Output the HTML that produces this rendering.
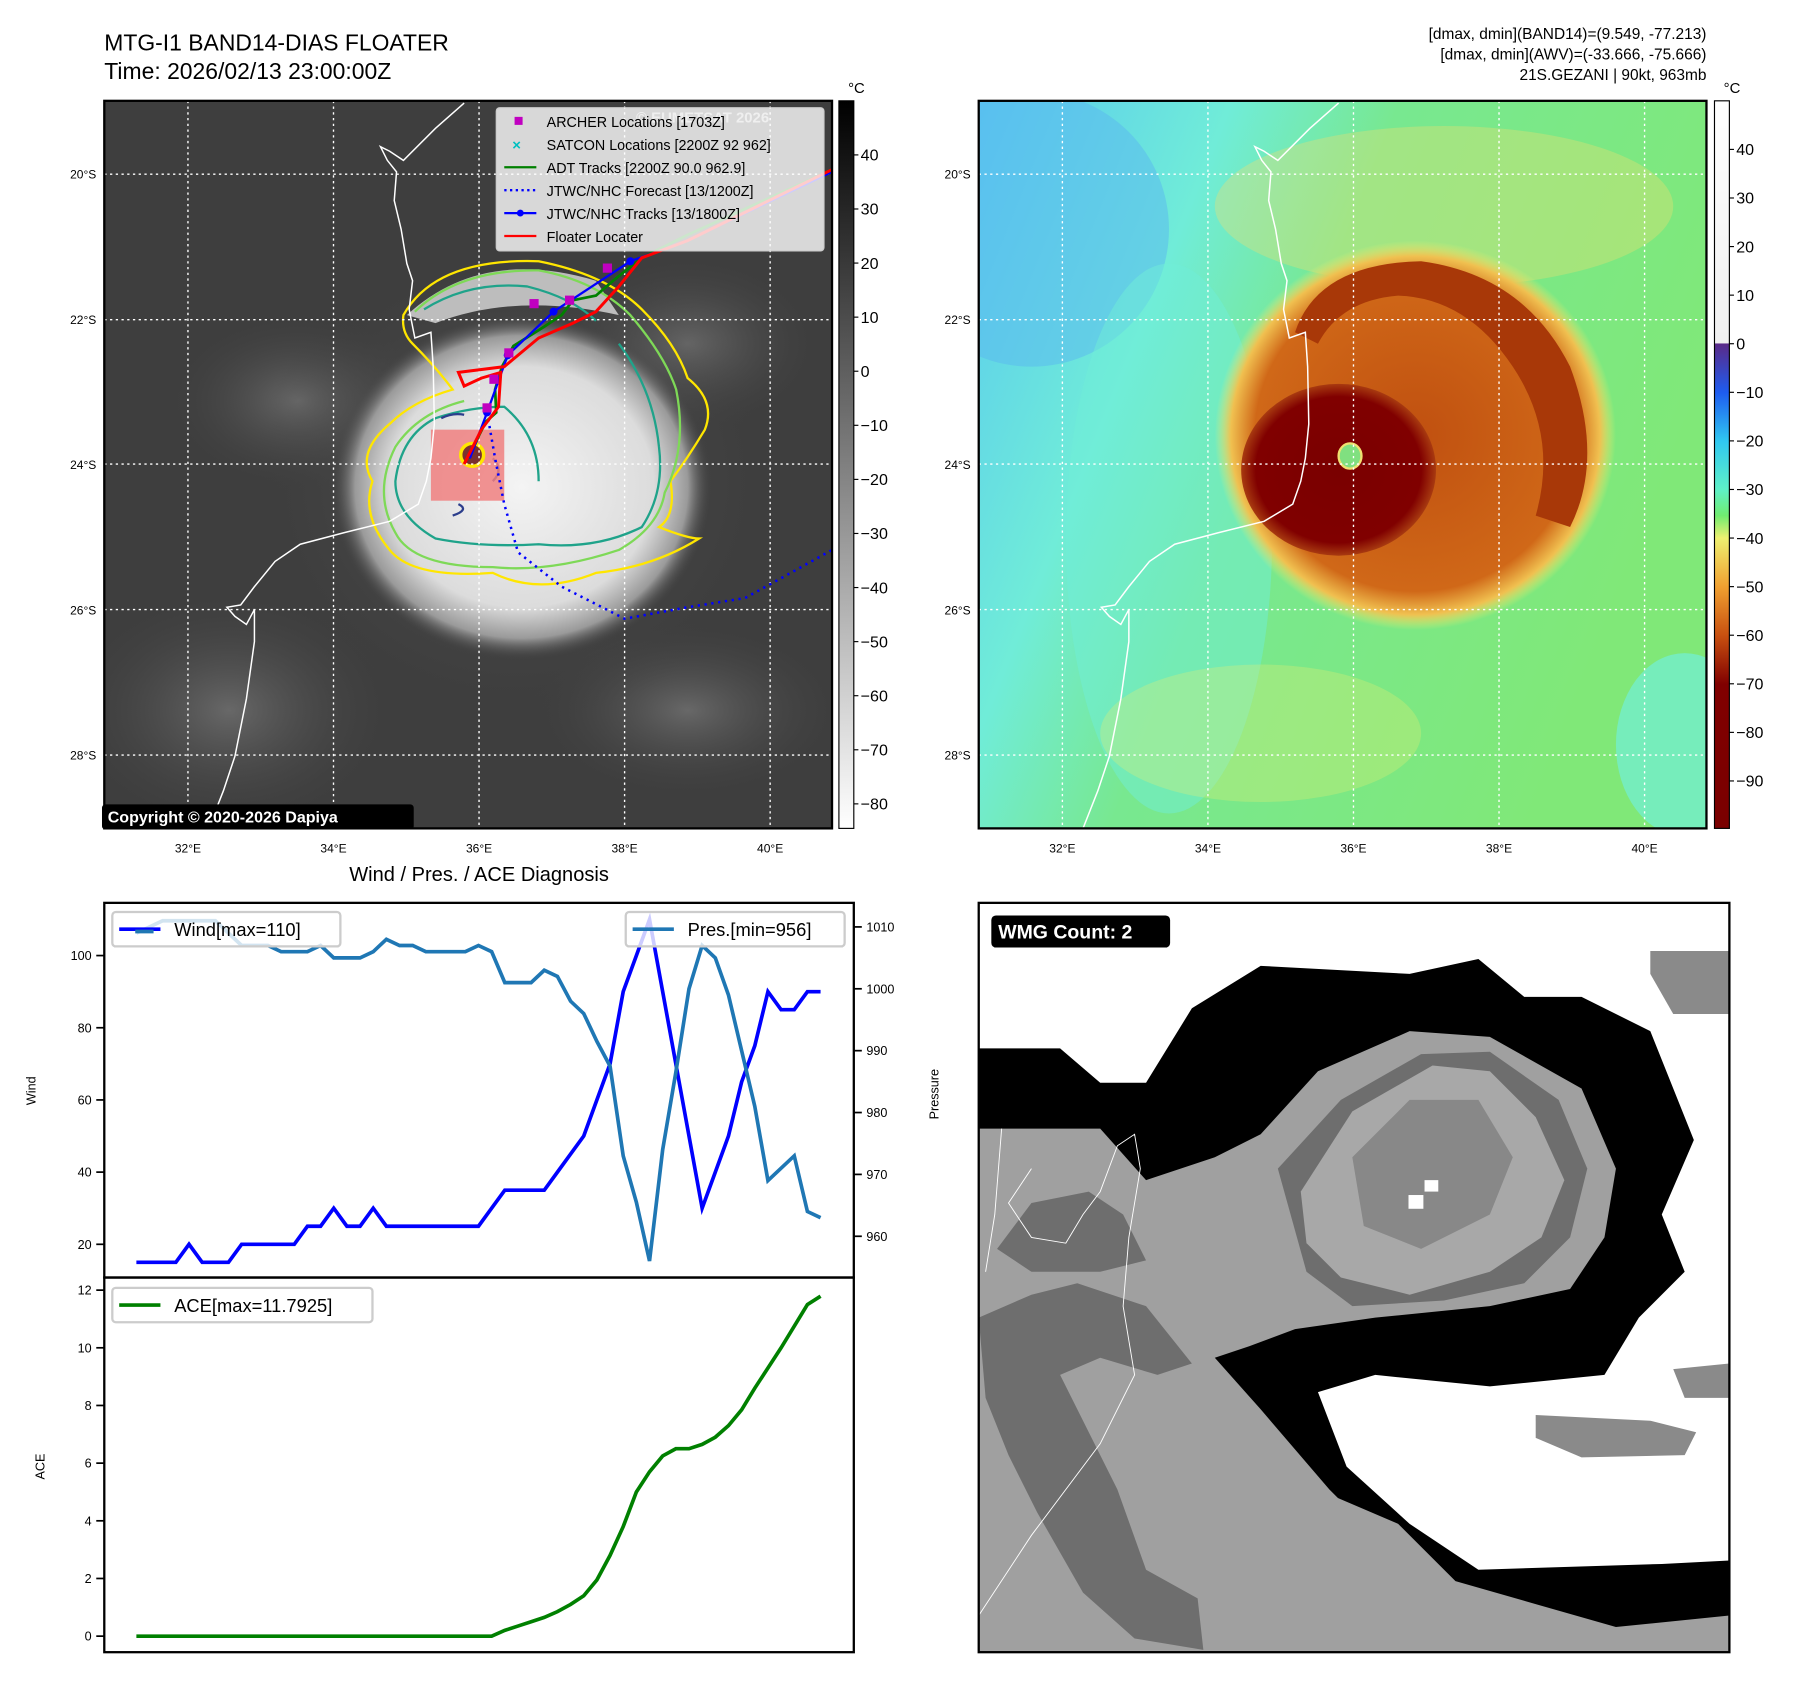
<!DOCTYPE html>
<html><head><meta charset="utf-8"><title>Cyclone diagnosis</title>
<style>html,body{margin:0;padding:0;background:#fff}svg{display:block;font-family:"Liberation Sans","DejaVu Sans",sans-serif}</style>
</head><body>
<svg id="fig" width="1797" height="1690" viewBox="0 0 1568 1475" preserveAspectRatio="none" xmlns="http://www.w3.org/2000/svg">
<defs>
<linearGradient id="cbGray" x1="0" y1="0" x2="0" y2="1"><stop offset="0" stop-color="#000"/><stop offset="1" stop-color="#fff"/></linearGradient>
<linearGradient id="cbColor" x1="0" y1="0" x2="0" y2="1">
<stop offset="0" stop-color="#fff"/><stop offset="0.333" stop-color="#f0f0f0"/><stop offset="0.334" stop-color="#5a2a88"/>
<stop offset="0.401" stop-color="#1e5cf0"/><stop offset="0.468" stop-color="#30c8f0"/><stop offset="0.534" stop-color="#5ef0c8"/>
<stop offset="0.57" stop-color="#70ec70"/><stop offset="0.601" stop-color="#eef070"/><stop offset="0.668" stop-color="#f0a030"/>
<stop offset="0.735" stop-color="#c85010"/><stop offset="0.802" stop-color="#800000"/><stop offset="1" stop-color="#7a0000"/></linearGradient>
<radialGradient id="cloud" cx="0.5" cy="0.5" r="0.5"><stop offset="0" stop-color="#f4f4f4"/><stop offset="0.7" stop-color="#dcdcdc"/><stop offset="0.88" stop-color="#9a9a9a"/><stop offset="1" stop-color="#4a4a4a" stop-opacity="0"/></radialGradient>
<radialGradient id="haze" cx="0.5" cy="0.5" r="0.5"><stop offset="0" stop-color="#7a7a7a" stop-opacity="0.7"/><stop offset="1" stop-color="#3c3c3c" stop-opacity="0"/></radialGradient>
<linearGradient id="rbg" x1="0" y1="0" x2="1" y2="0.4"><stop offset="0" stop-color="#58c8f0"/><stop offset="0.3" stop-color="#70ecd8"/><stop offset="0.5" stop-color="#78e890"/><stop offset="1" stop-color="#80e878"/></linearGradient>
<radialGradient id="storm" cx="0.5" cy="0.5" r="0.5"><stop offset="0" stop-color="#c05010"/><stop offset="0.8" stop-color="#d06818"/><stop offset="0.92" stop-color="#f0c050"/><stop offset="1" stop-color="#eef070" stop-opacity="0"/></radialGradient>
<radialGradient id="core" cx="0.5" cy="0.5" r="0.5"><stop offset="0" stop-color="#7a0000"/><stop offset="0.85" stop-color="#800000"/><stop offset="1" stop-color="#a83a10"/></radialGradient>
<clipPath id="clipL"><rect x="91" y="88" width="635" height="635"/></clipPath>
<clipPath id="clipR"><rect x="854" y="88" width="635" height="635"/></clipPath>
<clipPath id="clipB"><rect x="854" y="788" width="655" height="654"/></clipPath>
</defs>

<text x="91" y="44" font-size="20">MTG-I1 BAND14-DIAS FLOATER</text>
<text x="91" y="69" font-size="20">Time: 2026/02/13 23:00:00Z</text>
<g font-size="13.5" text-anchor="end">
<text x="1489" y="34">[dmax, dmin](BAND14)=(9.549, -77.213)</text>
<text x="1489" y="52">[dmax, dmin](AWV)=(-33.666, -75.666)</text>
<text x="1489" y="70">21S.GEZANI | 90kt, 963mb</text>
</g>

<g clip-path="url(#clipL)">
<rect x="91" y="88" width="635" height="635" fill="#3e3e3e"/>
<ellipse cx="200" cy="620" rx="150" ry="110" fill="url(#haze)"/>
<ellipse cx="260" cy="350" rx="120" ry="80" fill="url(#haze)"/>
<ellipse cx="600" cy="620" rx="140" ry="80" fill="url(#haze)"/>
<ellipse cx="600" cy="300" rx="120" ry="80" fill="url(#haze)"/>
<ellipse cx="450" cy="420" rx="230" ry="210" fill="url(#haze)"/>
<ellipse cx="455" cy="425" rx="165" ry="150" fill="url(#cloud)"/>
<path d="M355,275 Q420,215 520,245 L540,275 Q450,255 380,282 Z" fill="#bdbdbd"/>
<g fill="none" stroke-width="2">
<path stroke="#ffe600" d="M352,275 Q380,225 470,228 Q530,240 560,270 Q590,300 600,330 Q625,350 615,375 Q600,400 585,420 Q590,450 575,460 Q600,470 610,470 Q570,495 520,500 Q470,520 430,500 Q360,505 340,480 Q315,450 325,420 Q310,395 340,370 Q360,350 395,340 Q380,320 360,300 Q350,290 352,275 Z"/>
<path stroke="#7ed957" d="M362,272 Q400,235 470,236 Q520,245 550,275 Q580,310 590,340 Q600,390 580,430 Q575,460 540,480 Q480,500 430,495 Q360,495 345,465 Q325,430 345,390 Q365,360 405,350"/>
<path stroke="#1fa38a" d="M370,270 Q410,245 460,250 Q500,260 520,280 M540,300 Q570,340 575,390 Q580,430 560,460 Q520,480 470,475 Q420,478 380,470 Q345,450 345,420 Q350,380 380,365 Q410,355 440,355 Q470,380 470,420"/>
<path stroke="#2c3e8c" d="M385,365 Q395,360 405,362 M430,400 Q440,410 430,420 M400,440 Q410,445 395,450"/>
</g>
<rect x="376" y="375" width="64" height="62" fill="#f08080" opacity="0.85"/>
<ellipse cx="412" cy="397" rx="10" ry="10" fill="#7a3030" stroke="#ffe600" stroke-width="3"/>
<g stroke="#fff" stroke-width="1.2" stroke-dasharray="2,3">
<line x1="164" y1="88" x2="164" y2="723"/><line x1="291" y1="88" x2="291" y2="723"/><line x1="418" y1="88" x2="418" y2="723"/><line x1="545" y1="88" x2="545" y2="723"/><line x1="672" y1="88" x2="672" y2="723"/>
<line x1="91" y1="152" x2="726" y2="152"/><line x1="91" y1="279" x2="726" y2="279"/><line x1="91" y1="405" x2="726" y2="405"/><line x1="91" y1="532" x2="726" y2="532"/><line x1="91" y1="659" x2="726" y2="659"/>
</g>
<path id="coastL" fill="none" stroke="#fff" stroke-width="1.3" d="M405,90 L380,112 L352,140 L340,132 L332,128 L338,140 L346,150 L344,175 L350,200 L355,230 L360,245 L357,270 L362,295 L376,290 L378,320 L379,370 L376,400 L372,420 L365,440 L340,455 L300,465 L262,475 L240,490 L222,512 L210,528 L198,530 L205,538 L215,545 L222,532 L222,560 L215,610 L205,660 L195,690 L182,723"/>
<polyline fill="none" stroke="#0000ff" stroke-width="2.2" stroke-dasharray="2,4" points="425,360 432,400 440,440 452,482 490,512 545,540 600,530 650,522 690,500 726,480"/>
<polyline fill="none" stroke="#008000" stroke-width="2.4" points="409,400 418,380 424,368 433,360 432,340 438,320 448,302 475,285 490,275 500,262 520,258 535,245 560,225 600,205 726,148"/>
<polyline fill="none" stroke="#0000ff" stroke-width="2" points="410,400 425,360 443,310 483,272 550,228 600,210 726,150"/>
<g fill="#0000ff"><circle cx="425" cy="360" r="3.5"/><circle cx="443" cy="310" r="3.5"/><circle cx="483" cy="272" r="3.5"/><circle cx="550" cy="228" r="3.5"/></g>
<polyline fill="none" stroke="#ff0000" stroke-width="2.6" points="405,405 420,375 435,355 437,325 420,330 405,337 400,325 440,320 470,295 500,282 520,272 540,250 560,225 600,210 726,148"/>
<g fill="#c000c0"><rect x="421" y="352" width="8" height="8"/><rect x="427" y="327" width="8" height="8"/><rect x="440" y="304" width="8" height="8"/><rect x="462" y="261" width="8" height="8"/><rect x="493" y="258" width="8" height="8"/><rect x="526" y="230" width="8" height="8"/></g>
</g>
<rect x="91" y="88" width="635" height="635" fill="none" stroke="#000" stroke-width="2"/>
<g>
<rect x="433" y="94" width="286" height="125" rx="3" fill="#fff" fill-opacity="0.8" stroke="#ccc"/>
<text x="555" y="107" font-size="13" font-weight="bold" fill="#fff" fill-opacity="0.6">© EUMETSAT 2026</text>
<g font-size="12.5" fill="#000">
<rect x="449" y="102" width="7" height="7" fill="#c000c0"/><text x="477" y="111">ARCHER Locations [1703Z]</text>
<text x="447" y="131" fill="#00c0c0" font-size="13" font-weight="bold">×</text><text x="477" y="131">SATCON Locations [2200Z 92 962]</text>
<line x1="440" y1="146" x2="468" y2="146" stroke="#008000" stroke-width="2"/><text x="477" y="151">ADT Tracks [2200Z 90.0 962.9]</text>
<line x1="440" y1="166" x2="468" y2="166" stroke="#0000ff" stroke-width="2" stroke-dasharray="2,3"/><text x="477" y="171">JTWC/NHC Forecast [13/1200Z]</text>
<line x1="440" y1="186" x2="468" y2="186" stroke="#0000ff" stroke-width="2"/><circle cx="454" cy="186" r="3" fill="#0000ff"/><text x="477" y="191">JTWC/NHC Tracks [13/1800Z]</text>
<line x1="440" y1="206" x2="468" y2="206" stroke="#ff0000" stroke-width="2"/><text x="477" y="211">Floater Locater</text>
</g></g>
<g><rect x="89" y="702" width="272" height="22" rx="3" fill="#000"/><text x="94" y="718" font-size="14" font-weight="bold" fill="#fff">Copyright © 2020-2026 Dapiya</text></g>
<rect x="732" y="88" width="13" height="635" fill="url(#cbGray)" stroke="#000" stroke-width="1"/>
<text x="740" y="81" font-size="13">°C</text>
<g id="cbLeftTicks" font-size="14"></g>

<g clip-path="url(#clipR)">
<rect x="854" y="88" width="635" height="635" fill="url(#rbg)"/>
<ellipse cx="900" cy="200" rx="120" ry="120" fill="#5ab8f0" opacity="0.5"/>
<ellipse cx="1020" cy="470" rx="90" ry="240" fill="#70eed8" opacity="0.5"/>
<ellipse cx="1470" cy="650" rx="60" ry="80" fill="#70f0e8" opacity="0.6"/>
<ellipse cx="1260" cy="180" rx="200" ry="70" fill="#f0e070" opacity="0.35"/>
<ellipse cx="1100" cy="640" rx="140" ry="60" fill="#e8f070" opacity="0.3"/>
<ellipse cx="1235" cy="380" rx="175" ry="170" fill="url(#storm)"/>
<path d="M1130,290 Q1150,230 1240,228 Q1330,240 1370,320 Q1400,400 1370,460 L1340,450 Q1360,380 1320,320 Q1280,260 1220,258 Q1170,262 1150,300 Z" fill="#a83808"/>
<ellipse cx="1168" cy="410" rx="85" ry="75" fill="url(#core)"/>
<ellipse cx="1178" cy="398" rx="10" ry="11" fill="#80e080" stroke="#f0e070" stroke-width="2"/>
<g stroke="#fff" stroke-width="1.2" stroke-dasharray="2,3">
<line x1="927" y1="88" x2="927" y2="723"/><line x1="1054" y1="88" x2="1054" y2="723"/><line x1="1181" y1="88" x2="1181" y2="723"/><line x1="1308" y1="88" x2="1308" y2="723"/><line x1="1435" y1="88" x2="1435" y2="723"/>
<line x1="854" y1="152" x2="1489" y2="152"/><line x1="854" y1="279" x2="1489" y2="279"/><line x1="854" y1="405" x2="1489" y2="405"/><line x1="854" y1="532" x2="1489" y2="532"/><line x1="854" y1="659" x2="1489" y2="659"/>
</g>
<use href="#coastL" transform="translate(763,0)"/>
</g>
<rect x="854" y="88" width="635" height="635" fill="none" stroke="#000" stroke-width="2"/>
<rect x="1496" y="88" width="13" height="635" fill="url(#cbColor)" stroke="#000" stroke-width="1"/>
<text x="1504" y="81" font-size="13">°C</text>
<g id="cbRightTicks" font-size="14"></g>
<g id="mapTicks" font-size="10.5"></g>

<text x="418" y="769" font-size="17.5" text-anchor="middle">Wind / Pres. / ACE Diagnosis</text>
<g id="chart"></g>

<g clip-path="url(#clipB)">
<rect x="854" y="788" width="655" height="654" fill="#fff"/>
<polygon fill="#000" points="854,915 925,915 960,945 1000,945 1040,880 1100,843 1230,850 1290,837 1330,870 1380,870 1440,900 1478,995 1450,1060 1470,1110 1430,1150 1400,1200 1300,1210 1200,1200 1150,1215 1175,1280 1230,1330 1290,1370 1450,1365 1509,1362 1509,1442 854,1442"/>
<polygon fill="#a0a0a0" points="854,985 960,985 1000,1030 1060,1010 1100,990 1150,935 1230,900 1300,905 1380,950 1410,1020 1400,1080 1370,1125 1300,1140 1200,1150 1130,1160 1090,1175 1060,1185 1100,1230 1160,1300 1210,1350 1250,1410 1280,1442 854,1442"/>
<polygon fill="#a0a0a0" points="1150,1300 1220,1330 1270,1380 1340,1400 1410,1420 1509,1410 1509,1442 1200,1442"/>
<polygon fill="#6e6e6e" points="854,1150 900,1130 940,1120 1000,1140 1040,1190 1010,1200 960,1185 925,1200 975,1300 1000,1370 1045,1395 1050,1440 990,1430 945,1390 905,1320 880,1270 860,1220"/>
<polygon fill="#6e6e6e" points="870,1090 900,1050 950,1040 980,1060 1000,1100 960,1110 900,1110"/>
<polygon fill="#8a8a8a" points="1440,830 1509,830 1509,885 1460,885 1440,850"/>
<polygon fill="#8a8a8a" points="1340,1235 1440,1240 1480,1250 1470,1270 1380,1272 1340,1255"/>
<polygon fill="#8a8a8a" points="1460,1195 1509,1190 1509,1220 1470,1220"/>
<polygon fill="#6e6e6e" points="1115,1020 1170,960 1240,920 1300,918 1360,960 1385,1020 1370,1080 1330,1120 1260,1135 1180,1140 1140,1110"/>
<polygon fill="#a8a8a8" points="1135,1040 1180,970 1250,930 1300,935 1340,975 1365,1030 1345,1080 1300,1110 1230,1130 1170,1115 1140,1085"/>
<polygon fill="#888" points="1180,1010 1230,960 1290,960 1320,1010 1300,1060 1240,1090 1190,1070"/>
<rect x="1243" y="1030" width="12" height="10" fill="#fff"/><rect x="1229" y="1043" width="13" height="12" fill="#fff"/>
<path fill="none" stroke="#fff" stroke-width="0.8" d="M874,985 L868,1060 L860,1110 M900,1020 L880,1050 L900,1080 L930,1085 L945,1060 L960,1040 L975,1000 L990,990 L995,1020 L985,1080 L980,1140 L990,1200 L960,1260 L900,1340 L854,1410"/>
</g>
<rect x="854" y="788" width="655" height="654" fill="none" stroke="#000" stroke-width="2"/>
<g><rect x="865" y="799" width="156" height="28" rx="4" fill="#000"/><text x="871" y="819" font-size="17" font-weight="bold" fill="#fff">WMG Count: 2</text></g>

<script>
const windValues = [15,15,15,15,20,15,15,15,20,20,20,20,20,25,25,30,25,25,30,25,25,25,25,25,25,25,25,30,35,35,35,35,40,45,50,60,70,90,100,110,90,70,50,30,40,50,65,75,90,85,85,90,90];
const presValues = [1009,1010,1011,1011,1011,1011,1011,1009,1007,1007,1007,1006,1006,1006,1007,1005,1005,1005,1006,1008,1007,1007,1006,1006,1006,1006,1007,1006,1001,1001,1001,1003,1002,998,996,991.5,987.5,973,965.5,956,974,986.5,1000,1007,1005,999,990,981,969,971,973,964,963];
const aceValues = [0,0,0,0,0,0,0,0,0,0,0,0,0,0,0,0,0,0,0,0,0,0,0,0,0,0,0,0,0.2,0.35,0.5,0.65,0.85,1.1,1.4,1.95,2.8,3.8,5.0,5.7,6.25,6.5,6.5,6.65,6.9,7.3,7.85,8.6,9.3,10.0,10.75,11.5,11.79];
const windTicks = [20,40,60,80,100];
const presTicks = [960,970,980,990,1000,1010];
const aceTicks = [0,2,4,6,8,10,12];
const cbLeftTicks = [40,30,20,10,0,-10,-20,-30,-40,-50,-60,-70,-80];
const cbRightTicks = [40,30,20,10,0,-10,-20,-30,-40,-50,-60,-70,-80,-90];
const lonLabels = ["32°E","34°E","36°E","38°E","40°E"];
const latLabels = ["20°S","22°S","24°S","26°S","28°S"];

const NS='http://www.w3.org/2000/svg';
function mk(tag, attrs, parent){const e=document.createElementNS(NS,tag);for(const k in attrs)e.setAttribute(k,attrs[k]);parent.appendChild(e);return e;}
const xS = i => 119 + i*(716-119)/(windValues.length-1);
const yWind = v => 1086 + (v-20)*(834-1086)/80;
const yPres = v => 1079 + (v-960)*(809-1079)/50;
const yAce = v => 1428 + v*(1126-1428)/12;
const yCbL = t => 324 - t*4.72;
const yCbR = t => 300 - t*4.24;

const ch=document.getElementById('chart');
mk('rect',{x:91,y:788,width:654,height:327,fill:'none',stroke:'#000','stroke-width':2},ch);
mk('rect',{x:91,y:1115,width:654,height:327,fill:'none',stroke:'#000','stroke-width':2},ch);
windTicks.forEach(t=>{const y=yWind(t);
 const l=mk('line',{x1:84,x2:91,y1:y,y2:y,stroke:'#000','stroke-width':1.5},ch);
 
 
 const tx=mk('text',{x:80,y:y+4,'font-size':11,'text-anchor':'end'},ch);tx.textContent=t;
 
 });
presTicks.forEach(t=>{const y=yPres(t);
 const l=mk('line',{x1:745,x2:752,y1:y,y2:y,stroke:'#000','stroke-width':1.5},ch);
 
 
 const tx=mk('text',{x:756,y:y+4,'font-size':11},ch);tx.textContent=t;
 
 });
aceTicks.forEach(t=>{const y=yAce(t);
 const l=mk('line',{x1:84,x2:91,y1:y,y2:y,stroke:'#000','stroke-width':1.5},ch);
 
 
 const tx=mk('text',{x:80,y:y+4,'font-size':11,'text-anchor':'end'},ch);tx.textContent=t;
 
 });
let lab=mk('text',{transform:'translate(31,952) rotate(-90)','font-size':11,'text-anchor':'middle'},ch);lab.textContent='Wind';


lab=mk('text',{transform:'translate(819,955) rotate(-90)','font-size':11,'text-anchor':'middle'},ch);lab.textContent='Pressure';


lab=mk('text',{transform:'translate(39,1280) rotate(-90)','font-size':11,'text-anchor':'middle'},ch);lab.textContent='ACE';



const pw=mk('polyline',{points:windValues.map((v,i)=>xS(i)+','+yWind(v)).join(' '),fill:'none',stroke:'#0000ff','stroke-width':3.2},ch);


const pp=mk('polyline',{points:presValues.map((v,i)=>xS(i)+','+yPres(v)).join(' '),fill:'none',stroke:'#1f77b4','stroke-width':3.2},ch);


const pa=mk('polyline',{points:aceValues.map((v,i)=>xS(i)+','+yAce(v)).join(' '),fill:'none',stroke:'#008000','stroke-width':3.2},ch);



function legend(name,x,y,w,color,text){const g=mk('g',{},ch);
 
 
 mk('rect',{x:x,y:y,width:w,height:30,rx:3,fill:'#fff','fill-opacity':0.8,stroke:'#ccc','stroke-width':2},g);
 mk('line',{x1:x+6,x2:x+42,y1:y+15,y2:y+15,stroke:color,'stroke-width':3.2},g);
 const t=mk('text',{x:x+54,y:y+21,'font-size':16},g);t.textContent=text;}
legend('wind-legend',98,796,199,'#0000ff','Wind[max=110]');
legend('pressure-legend',546,796,191,'#1f77b4','Pres.[min=956]');
legend('ace-legend',98,1124,227,'#008000','ACE[max=11.7925]');
mk('line',{x1:118,x2:134,y1:813,y2:813,stroke:'#1f77b4','stroke-width':3.2},ch);

const cl=document.getElementById('cbLeftTicks');
cbLeftTicks.forEach(t=>{const y=yCbL(t);
 const l=mk('line',{x1:745,x2:749,y1:y,y2:y,stroke:'#000'},cl);
 
 
 const tx=mk('text',{x:751,y:y+5},cl);tx.textContent=t<0?'\u2212'+(-t):t;
 
 });
const cr=document.getElementById('cbRightTicks');
cbRightTicks.forEach(t=>{const y=yCbR(t);
 const l=mk('line',{x1:1509,x2:1513,y1:y,y2:y,stroke:'#000'},cr);
 
 
 const tx=mk('text',{x:1515,y:y+5},cr);tx.textContent=t<0?'\u2212'+(-t):t;
 
 });
const mt=document.getElementById('mapTicks');
[0,763].forEach(off=>{
 lonLabels.forEach((s,i)=>{const tx=mk('text',{x:164+i*127+off,y:744,'text-anchor':'middle'},mt);tx.textContent=s;
  
  });
 latLabels.forEach((s,i)=>{const tx=mk('text',{x:84+off,y:156+i*126.75,'text-anchor':'end'},mt);tx.textContent=s;
  
  });
});
</script>
</svg>
</body></html>
